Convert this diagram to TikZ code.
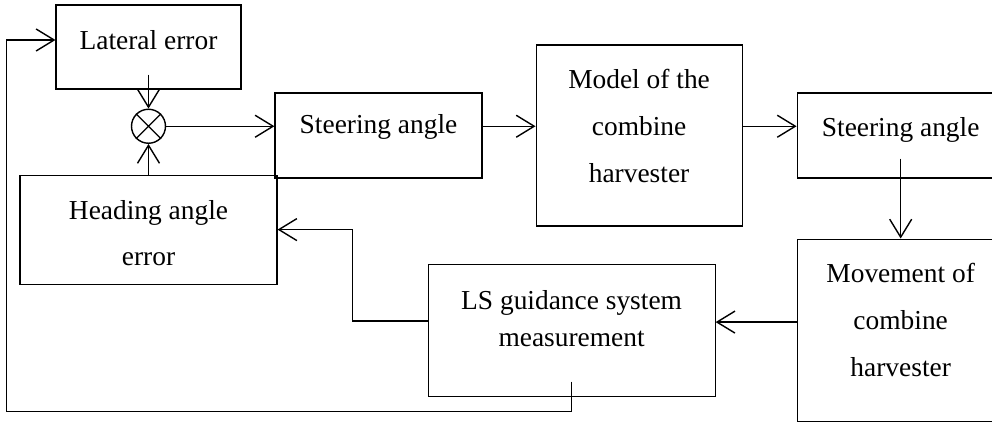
\documentclass[tikz,border=0pt]{standalone}
\usepackage{fontspec}
\setmainfont{Liberation Serif}
\usetikzlibrary{positioning,arrows.meta}
\newcommand{\dstrut}[1]{\rule[-#1]{0pt}{#1}}

\begin{document}
\begin{tikzpicture}[x=0.02cm, y=-0.02cm,
		block/.style={draw, line width=0.65pt, align=center, inner sep=0pt, font=\fontsize{15.6}{26.7}\selectfont},
		arrow/.style={-{Straight Barb[length=0.36cm,width=0.44cm]}, line width=0.8pt}
	]
	\useasboundingbox (0,0) rectangle (992,431);

	% Error blocks
	\node[block, minimum width=3.7cm, minimum height=1.68cm] (lateral) at (148.5,47) {Lateral error\dstrut{0.28cm}};
	\node[draw, circle, line width=0.8pt, minimum size=0.68cm, inner sep=0pt, below=0.38cm of lateral] (sum) {};
	\node[block, minimum width=5.14cm, minimum height=2.18cm, below=1.7cm of lateral] (heading) {\rule{0pt}{0.52cm}Heading angle\\error};

	% Forward path
	\node[block, minimum width=4.14cm, minimum height=1.7cm] (steer1) at (378.5,135.5) {Steering angle\dstrut{0.45cm}};
	\node[block, minimum width=4.12cm, minimum height=3.62cm, right=1.06cm of steer1] (model) {Model of the\\combine\\harvester\dstrut{0.4cm}};
	\node[block, minimum width=4.14cm, minimum height=1.7cm, right=1.08cm of model] (steer2) {Steering angle\dstrut{0.33cm}};
	\node[block, minimum width=4.14cm, minimum height=3.64cm, below=1.2cm of steer2] (move) {Movement of\\combine\\harvester\dstrut{0.4cm}};

	% Measurement
	\node[block, minimum width=5.74cm, minimum height=2.64cm, left=1.62cm of move, font=\fontsize{15.6}{21}\selectfont] (ls) {LS guidance system\\measurement\dstrut{0.48cm}};

	% Summing junction cross
	\draw[line width=0.8pt] (sum.45) -- (sum.225) (sum.135) -- (sum.-45);

	% Arrows
	\draw[arrow] ([yshift=0.3cm]lateral.south) -- (sum.north);
	\draw[arrow] (heading.north) -- (sum.south);
	\draw[arrow] (sum.east) -- (sum.east -| steer1.west);
	\draw[arrow] (steer1.east |- sum) -- (model.west |- sum);
	\draw[arrow] (model.east |- sum) -- (steer2.west |- sum);
	\draw[arrow] ([yshift=0.4cm]steer2.south) -- (move.north);
	\draw[arrow] ([yshift=0.16cm]move.west) -- ([yshift=0.16cm]move.west -| ls.east);
	\draw[arrow] ([yshift=0.18cm]ls.west) -- ++(-75,0) |- (heading.east);
	\draw[arrow] ([yshift=0.3cm]ls.south) -- ++(0,30) -| ([xshift=-0.98cm,yshift=0.14cm]lateral.west) -- ([yshift=0.14cm]lateral.west);
\end{tikzpicture}
\end{document}
